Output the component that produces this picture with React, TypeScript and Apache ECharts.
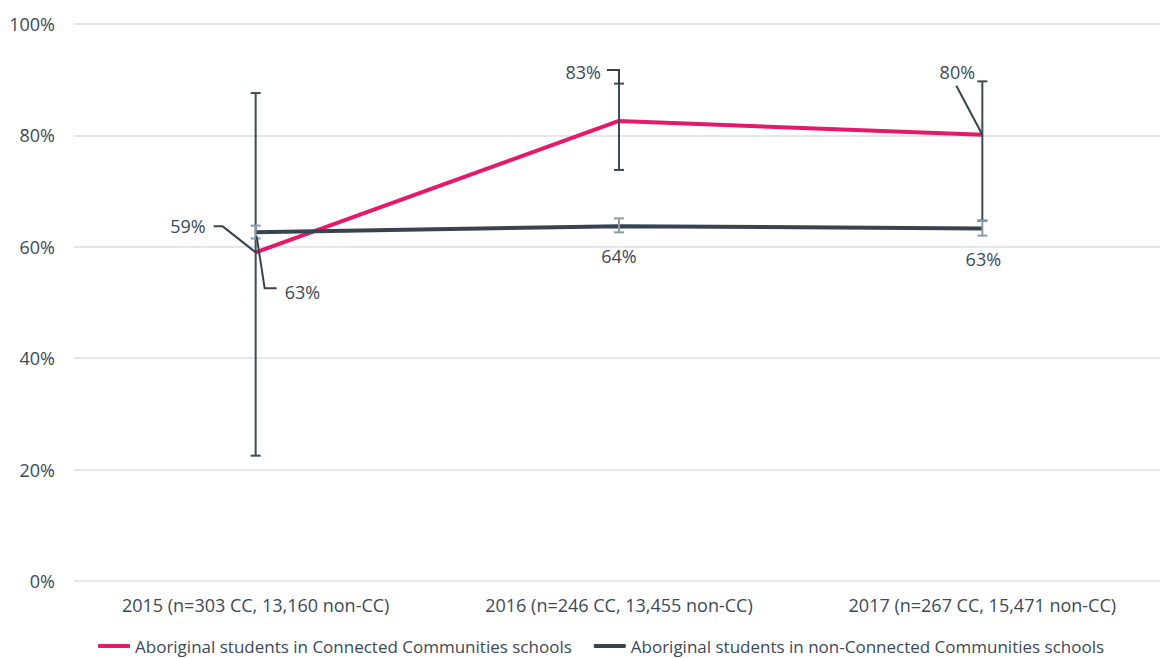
import React, { useEffect, useRef } from "react";
import * as echarts from "echarts";

const categories = [
  "2015 (n=303 CC, 13,160 non-CC)",
  "2016 (n=246 CC, 13,455 non-CC)",
  "2017 (n=267 CC, 15,471 non-CC)",
];
const seriesNames = [
  "Aboriginal students in Connected Communities schools",
  "Aboriginal students in non-Connected Communities schools",
];
const ccValues = [59.0, 82.6, 80.1];
const ccLow = [22.5, 73.8, 64.7];
const ccHigh = [87.6, 89.3, 89.7];
const nonValues = [62.6, 63.7, 63.3];
const nonLow = [61.5, 62.6, 62.0];
const nonHigh = [63.8, 65.1, 64.7];
const yTicks = { min: 0, max: 100, interval: 20 };

// label placement (pixel offsets relative to the data point)
const ccLabelLayout = [
  { dx: -50, dy: -26, align: "right", line: [[-42, -26], [-33, -26], [0, 0]] },
  { dx: -18, dy: -49, align: "right", line: [[-12, -51], [0, -51], [0, -37]] },
  { dx: -25, dy: -63, align: "center", line: [[-26, -49], [0, 0]] },
];
const nonLabelLayout = [
  { dx: 29, dy: 60, align: "left", line: [[1, 4], [9, 56], [21, 56]] },
  { dx: 0, dy: 30, align: "center", line: null },
  { dx: 1, dy: 31, align: "center", line: null },
];

const PINK = "#e5186a";
const DARK = "#37444f";
const TEXT = "#3c4957";
const ERR_LIGHT = "#8a9aad";
const FONT = "'Open Sans', sans-serif";
const FS = 18;
const FS_LEGEND = 17;

function errorBarSeries(low: number[], high: number[], color: string, z: number) {
  return {
    type: "custom",
    z,
    silent: true,
    data: categories.map((_, i) => [i, low[i], high[i]]),
    renderItem: (_p: any, api: any) => {
      const i = api.value(0);
      const lo = api.coord([i, api.value(1)]);
      const hi = api.coord([i, api.value(2)]);
      const w = 5;
      const style = { stroke: color, lineWidth: 2 };
      return {
        type: "group",
        children: [
          { type: "line", shape: { x1: lo[0], y1: lo[1], x2: hi[0], y2: hi[1] }, style },
          { type: "line", shape: { x1: hi[0] - w, y1: hi[1], x2: hi[0] + w, y2: hi[1] }, style },
          { type: "line", shape: { x1: lo[0] - w, y1: lo[1], x2: lo[0] + w, y2: lo[1] }, style },
        ],
      };
    },
  };
}

function labelSeries(values: number[], layout: any[], z: number) {
  return {
    type: "custom",
    z,
    silent: true,
    data: categories.map((_, i) => [i, values[i]]),
    renderItem: (p: any, api: any) => {
      const i = api.value(0);
      const v = api.value(1);
      const pt = api.coord([i, v]);
      const L = layout[p.dataIndex];
      const children: any[] = [
        {
          type: "text",
          x: pt[0] + L.dx,
          y: pt[1] + L.dy,
          style: {
            text: Math.round(v) + "%",
            fill: TEXT,
            font: `${FS}px ${FONT}`,
            align: L.align,
            verticalAlign: "middle",
          },
        },
      ];
      if (L.line) {
        children.push({
          type: "polyline",
          shape: { points: L.line.map((q: number[]) => [pt[0] + q[0], pt[1] + q[1]]) },
          style: { stroke: DARK, lineWidth: 2, fill: "none" },
        });
      }
      return { type: "group", children };
    },
  };
}

export default function App() {
  const ref = useRef<HTMLDivElement>(null);
  useEffect(() => {
    if (!ref.current) return;
    const chart = echarts.init(ref.current, null, { renderer: "svg" });
    chart.setOption({
      animation: false,
      backgroundColor: "#ffffff",
      textStyle: { fontFamily: FONT },
      grid: { left: 74, top: 24, right: 6, bottom: 77 },
      legend: {
        left: 98,
        top: 636,
        padding: 0,
        itemWidth: 32,
        itemHeight: 4,
        itemGap: 22,
        icon: "roundRect",
        textStyle: { fontSize: FS_LEGEND, color: TEXT, fontFamily: FONT, lineHeight: 20 },
        data: [
          { name: seriesNames[0], itemStyle: { color: PINK } },
          { name: seriesNames[1], itemStyle: { color: DARK } },
        ],
      },
      xAxis: {
        type: "category",
        data: categories,
        boundaryGap: true,
        axisLine: { show: false },
        axisTick: { show: false },
        axisLabel: { color: TEXT, fontSize: FS, margin: 15, fontFamily: FONT, interval: 0 },
      },
      yAxis: {
        type: "value",
        min: yTicks.min,
        max: yTicks.max,
        interval: yTicks.interval,
        axisLine: { show: false },
        axisTick: { show: false },
        axisLabel: { color: TEXT, fontSize: FS, margin: 19, formatter: "{value}%", fontFamily: FONT },
        splitLine: { lineStyle: { color: "#e3e7ec", width: 2 } },
      },
      series: [
        {
          name: seriesNames[0],
          type: "line",
          data: ccValues,
          showSymbol: false,
          z: 3,
          lineStyle: { color: PINK, width: 4 },
          itemStyle: { color: PINK },
        },
        {
          name: seriesNames[1],
          type: "line",
          data: nonValues,
          showSymbol: false,
          z: 4,
          lineStyle: { color: DARK, width: 4 },
          itemStyle: { color: DARK },
        },
        errorBarSeries(ccLow, ccHigh, "#3d4a58", 5),
        errorBarSeries(nonLow, nonHigh, ERR_LIGHT, 6),
        labelSeries(ccValues, ccLabelLayout, 7),
        labelSeries(nonValues, nonLabelLayout, 7),
      ],
    });
    return () => chart.dispose();
  }, []);
  return (
    <div style={{ position: "absolute", left: 0, top: 0, width: 1160, height: 658, overflow: "hidden" }}>
      <div ref={ref} style={{ width: 1170, height: 658 }} />
    </div>
  );
}
